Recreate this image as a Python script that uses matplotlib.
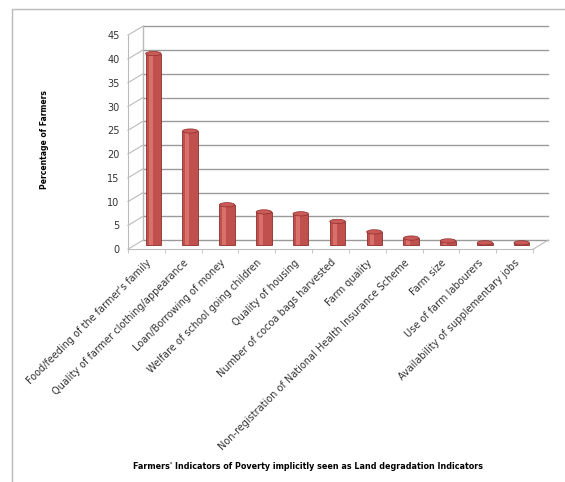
import numpy as np
import matplotlib
matplotlib.use('Agg')
import matplotlib.pyplot as plt
import matplotlib.transforms as mtransforms
from matplotlib.patches import Rectangle, Ellipse

# ============================================================
# DATA
# ============================================================
categories = [
    "Food/feeding of the farmer's family",
    "Quality of farmer clothing/appearance",
    "Loan/Borrowing of money",
    "Welfare of school going children",
    "Quality of housing",
    "Number of cocoa bags harvested",
    "Farm quality",
    "Non-registration of National Health Insurance Scheme",
    "Farm size",
    "Use of farm labourers",
    "Availability of supplementary jobs",
]
percent = [40.3, 24.0, 8.5, 7.0, 6.6, 5.0, 2.8, 1.5, 0.9, 0.5, 0.5]
yticks = [0, 5, 10, 15, 20, 25, 30, 35, 40, 45]

# ============================================================
# PLOT
# ============================================================
fig = plt.figure(figsize=(5.65, 4.82), dpi=100)
# outer chart frame (only left and top edges fall inside the image)
fig.patches.append(Rectangle((12 / 565, -0.1), 1.2, 1.1 - 9 / 482,
                             transform=fig.transFigure, fill=False,
                             edgecolor='#BBBBBB', linewidth=1.0))

ax = fig.add_axes([0.2265, 0.483, 0.717, 0.444])
x = np.arange(len(categories))
ax.set_xlim(-0.5, len(categories) - 0.5)
ax.set_ylim(0, 45)

# depth offset for the 3D look (back wall and middle row)
back = mtransforms.ScaledTranslation(0.15, 0.09, fig.dpi_scale_trans)
mid = mtransforms.ScaledTranslation(0.07, 0.04, fig.dpi_scale_trans)
inv = fig.transFigure.inverted()

# back wall grid lines
for v in yticks:
    ax.plot([-0.5, len(categories) - 0.5], [v, v], color='#9A9A9A',
            linewidth=1.0, transform=ax.transData + back, clip_on=False, zorder=1)
ax.plot([-0.5, -0.5], [0, 45], color='#BBBBBB', linewidth=1.0,
        transform=ax.transData + back, clip_on=False, zorder=1)
# left wall diagonals
for v in yticks:
    a = inv.transform(ax.transData.transform((-0.5, v)))
    b = inv.transform((ax.transData + back).transform((-0.5, v)))
    fig.lines.append(plt.Line2D([a[0], b[0]], [a[1], b[1]], color='#BBBBBB',
                                linewidth=0.8, transform=fig.transFigure))
# floor right edge
a = inv.transform(ax.transData.transform((len(categories) - 0.5, 0)))
b = inv.transform((ax.transData + back).transform((len(categories) - 0.5, 0)))
fig.lines.append(plt.Line2D([a[0], b[0]], [a[1], b[1]], color='#BBBBBB',
                            linewidth=0.8, transform=fig.transFigure))

# cylinder-ish bars
w = 0.42
ax.bar(x, percent, width=w, color='#C0504D', edgecolor='#8E2F2C',
       linewidth=0.6, transform=ax.transData + mid, zorder=3, clip_on=False)
ax.bar(x - w * 0.18, percent, width=w * 0.25, color='#D9706C', linewidth=0,
       transform=ax.transData + mid, zorder=4, clip_on=False)
for xi, v in zip(x, percent):
    ax.add_patch(Ellipse((xi, v), w, 0.9, facecolor='#C95A57', edgecolor='#8E2F2C',
                         linewidth=0.5, transform=ax.transData + mid, zorder=5,
                         clip_on=False))

for s in ['top', 'right']:
    ax.spines[s].set_visible(False)
ax.spines['left'].set_color('#BBBBBB')
ax.spines['bottom'].set_color('#BBBBBB')
ax.set_yticks(yticks)
ax.set_yticklabels([str(v) for v in yticks], fontsize=7, color='#333333')
ax.tick_params(axis='y', length=0, pad=6)
ax.set_xticks(np.arange(len(categories) + 1) - 0.5, minor=True)
ax.tick_params(axis='x', which='minor', length=3, color='#BBBBBB')
ax.set_xticks(x)
ax.set_xticklabels(categories, rotation=45, ha='right', rotation_mode='anchor',
                   fontsize=7.0, color='#333333')
ax.tick_params(axis='x', which='major', length=0, pad=6)

fig.text(0.078, 0.71, 'Percentage of Farmers', rotation=90, fontsize=5.5,
         fontweight='bold', ha='center', va='center')
fig.text(0.545, 0.033,
         "Farmers' Indicators of Poverty implicitly seen as Land degradation Indicators",
         fontsize=5.8, fontweight='bold', ha='center', va='center')

plt.savefig('out.png', dpi=100)
